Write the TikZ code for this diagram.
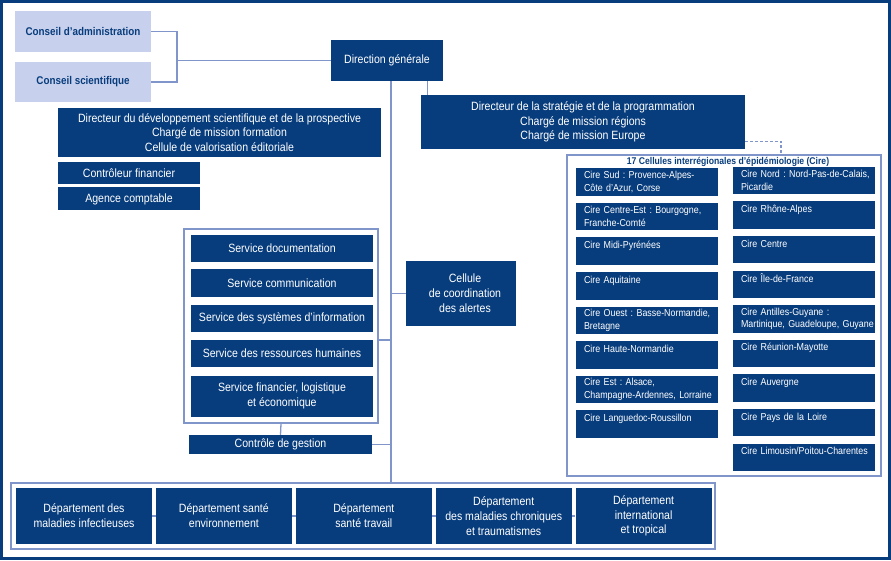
\documentclass[tikz,border=0pt]{standalone}
\usepackage{fontspec}
\setmainfont{Liberation Sans}[FakeStretch=0.88]
\usetikzlibrary{positioning}
\definecolor{invsnavy}{RGB}{8,61,125}
\definecolor{invslight}{RGB}{199,208,236}
\definecolor{invsline}{RGB}{128,150,202}
\newcommand{\orgfont}{\fontsize{12}{14.8}\selectfont\frenchspacing}
\newcommand{\cirefont}{\fontsize{10.1}{12.7}\selectfont\frenchspacing}

\begin{document}
\begin{tikzpicture}[x=1pt, y=-1pt,
  navybox/.style={fill=invsnavy, text=white, inner sep=0pt, align=center, font=\orgfont},
  lightbox/.style={fill=invslight, text=invsnavy, inner sep=0pt, font=\fontsize{11.2}{13}\selectfont\bfseries},
  cirebox/.style={fill=invsnavy, text=white, inner xsep=8pt, inner ysep=0pt, text width=126pt, minimum height=27.5pt, align=left, font=\cirefont},
  deptbox/.style={navybox, minimum width=136pt, minimum height=56pt},
  servbox/.style={navybox, minimum width=182pt},
  groupframe/.style={draw=invsline, line width=1.2pt, inner sep=0pt},
  link/.style={draw=invsline, line width=1.3pt},
]
  \useasboundingbox (0,0) rectangle (891,560);
  \draw[invsnavy, line width=3pt] (1.5,1.5) rectangle (889.5,558.5);

  % conseils et direction
  \node[lightbox, minimum width=136pt, minimum height=41pt] (ca) at (83,31.5) {Conseil d’administration};
  \node[lightbox, minimum width=136pt, minimum height=40pt] (cs) at (83,82) {Conseil scientifique};
  \node[navybox, minimum width=112pt, minimum height=41pt] (dg) at (387,60.5) {Direction générale};
  \coordinate (cj) at (177,60.5);
  \draw[link] (ca.east) -| (cj) |- (cs.east);
  \draw[link] (cj) -- (dg.west);

  \node[navybox, minimum width=324pt, minimum height=54pt] (dsp) at (583,122)
    {Directeur de la stratégie et de la programmation\\Chargé de mission régions\\Chargé de mission Europe};
  \node[navybox, minimum width=323pt, minimum height=49pt] (dds) at (219.5,132.5)
    {Directeur du développement scientifique et de la prospective\\Chargé de mission formation\\Cellule de valorisation éditoriale};
  \node[navybox, minimum width=142pt, minimum height=22pt] (cf) at (129,173) {Contrôleur financier};
  \node[navybox, minimum width=142pt, minimum height=23pt, below=3pt of cf] (ac) {Agence comptable};

  % services
  \node[servbox, minimum height=27pt] (sdoc) at (282,248.5) {Service documentation};
  \node[servbox, minimum height=28pt, below=7pt of sdoc] (scom) {Service communication};
  \node[servbox, minimum height=27pt, below=7pt of scom] (ssi) {Service des systèmes d’information};
  \node[servbox, minimum height=27pt, below=8pt of ssi] (srh) {Service des ressources humaines};
  \node[servbox, minimum height=41pt, below=8pt of srh] (sfin) {Service financier, logistique\\et économique};
  \node[groupframe, minimum width=194pt, minimum height=194pt] (serv) at (281,326) {};
  \node[navybox, minimum width=183pt, minimum height=19pt] (cg) at (280.5,444.5) {Contrôle de gestion};
  \node[navybox, minimum width=110pt, minimum height=65pt] (cca) at (461,293.5) {\hspace*{8pt}Cellule\\\hspace*{8pt}de coordination\\\hspace*{8pt}des alertes};

  % cire
  \node[groupframe, minimum width=314pt, minimum height=321pt] (cire) at (724,315.5) {};
  \node[font=\fontsize{9.8}{11}\selectfont\bfseries, text=invsnavy, inner sep=0pt] (ciretitle) at (728,161.5)
    {17 Cellules interrégionales d’épidémiologie (Cire)};
  \foreach \i/\txt in {0/{\mbox{Cire Sud : Provence-Alpes-}\\\mbox{Côte d’Azur, Corse}},
                       1/{\mbox{Cire Centre-Est : Bourgogne,}\\\mbox{Franche-Comté}},
                       2/{\mbox{Cire Midi-Pyrénées}\\~},
                       3/{\mbox{Cire Aquitaine}\\~},
                       4/{\mbox{Cire Ouest : Basse-Normandie,}\\\mbox{Bretagne}},
                       5/{\mbox{Cire Haute-Normandie}\\~},
                       6/{\mbox{Cire Est : Alsace,}\\\mbox{Champagne-Ardennes, Lorraine}},
                       7/{\mbox{Cire Languedoc-Roussillon}\\~}}
    \node[cirebox] (cl\i) at (647,182+\i*34.6) {\txt};
  \foreach \i/\txt in {0/{\mbox{Cire Nord : Nord-Pas-de-Calais,}\\\mbox{Picardie}},
                       1/{\mbox{Cire Rhône-Alpes}\\~},
                       2/{\mbox{Cire Centre}\\~},
                       3/{\mbox{Cire Île-de-France}\\~},
                       4/{\mbox{Cire Antilles-Guyane :}\\\mbox{Martinique, Guadeloupe, Guyane}},
                       5/{\mbox{Cire Réunion-Mayotte}\\~},
                       6/{\mbox{Cire Auvergne}\\~},
                       7/{\mbox{Cire Pays de la Loire}\\~},
                       8/{\mbox{Cire Limousin/Poitou-Charentes}\\~}}
    \node[cirebox] (cr\i) at (804,180.5+\i*34.6) {\txt};

  % departements
  \node[groupframe, minimum width=704pt, minimum height=66pt] (depts) at (363,516) {};
  \node[deptbox] (d1) at (84,516) {Département des\\maladies infectieuses};
  \node[deptbox, right=3.5pt of d1] (d2) {Département santé\\environnement};
  \node[deptbox, right=3.5pt of d2] (d3) {Département\\santé travail};
  \node[deptbox, right=3.5pt of d3] (d4) {Département\\des maladies chroniques\\et traumatismes};
  \node[deptbox, right=3.5pt of d4] (d5) {Département\\international\\et tropical};
  \foreach \a/\b in {d1/d2, d2/d3, d3/d4, d4/d5}
    \draw[link] (\a.east) -- (\b.west);

  % liaisons
  \coordinate (tk) at (391,0);
  \draw[link] (dg.south -| tk) -- (depts.north -| tk);
  \draw[link] ([xshift=7pt]dsp.north west) -- ([xshift=7pt]dsp.north west |- dg.south);
  \draw[link, dash pattern=on 3pt off 2pt] ([yshift=8pt]dsp.south east) -| ([xshift=57pt]cire.north);
  \draw[link] ([yshift=-14pt]serv.east) -- ([yshift=-14pt]serv.east -| tk);
  \draw[link] (serv.south) -- (cg.north);
  \draw[link] (cg.east) -- (cg.east -| tk);
  \draw[link] (cca.west) -- (cca.west -| tk);

\end{tikzpicture}
\end{document}
